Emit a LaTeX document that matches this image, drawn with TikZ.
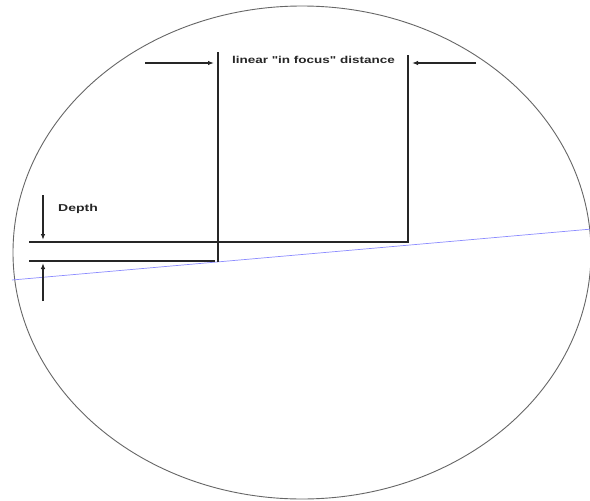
\documentclass[tikz,border=0pt]{standalone}
\usepackage{fontspec}
\usepackage{graphicx}
\setmainfont{Liberation Sans}[Ligatures=TeXOff]
\usetikzlibrary{arrows.meta}
\tikzset{
  dimline/.style={line width=1.2pt, black!85},
  dimarrow/.style={line width=1.2pt, black!85, -{Latex[length=6pt,width=4.5pt]}},
  lbl/.style={font=\fontsize{10}{11}\selectfont\bfseries, inner sep=0pt, text=black!85},
  rim/.style={line width=0.9pt, black!60},
  plane/.style={line width=0.7pt, blue!45!white}
}
\begin{document}
\begin{tikzpicture}[x=1pt, y=-1pt]
  \useasboundingbox (0,0) rectangle (590,501);
  \fill[white] (0,0) rectangle (590,501);
  % rim of the field
  \draw[rim] (302,252.5) ellipse [x radius=289, y radius=246.5];
  % tilted plane
  \coordinate (pL) at (12,280);
  \coordinate (pR) at (592,229);
  \draw[plane] (pL) -- (pR);
  % verticals
  \coordinate (v1t) at (218,52);
  \coordinate (v1b) at (218,262);
  \coordinate (v2t) at (408,55);
  \coordinate (v2b) at (408,243);
  \draw[dimline] (v1t) -- (v1b);
  \draw[dimline] (v2t) -- (v2b);
  % horizontals
  \coordinate (h1l) at (29,242);
  \coordinate (h1r) at (408,242);
  \coordinate (h2l) at (29,261);
  \coordinate (h2r) at (215,261);
  \draw[dimline] (h1l) -- (h1r);
  \draw[dimline] (h2l) -- (h2r);
  % top dimension arrows
  \coordinate (a1s) at (145,63);
  \coordinate (a1e) at (214,63);
  \coordinate (a2s) at (476,63);
  \coordinate (a2e) at (412,63);
  \draw[dimarrow] (a1s) -- (a1e);
  \draw[dimarrow] (a2s) -- (a2e);
  % depth arrows
  \coordinate (d1s) at (43,195);
  \coordinate (d1e) at (43,240);
  \coordinate (d2s) at (43,301);
  \coordinate (d2e) at (43,263);
  \draw[dimarrow] (d1s) -- (d1e);
  \draw[dimarrow] (d2s) -- (d2e);
  % labels
  \node[lbl] (dist) at (313.5,60) {\scalebox{1.35}[1]{linear "in focus" distance}};
  \node[lbl] (depth) at (78,209) {\scalebox{1.4}[1]{Depth}};
\end{tikzpicture}
\end{document}
